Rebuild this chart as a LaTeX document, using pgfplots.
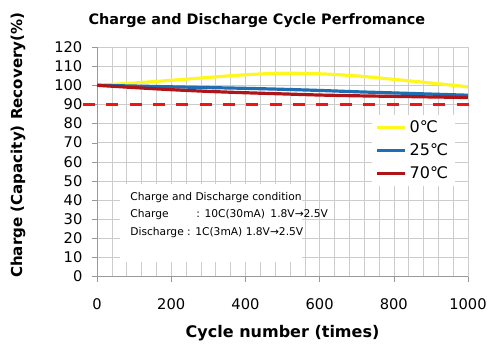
\documentclass[border=0pt]{standalone}
\usepackage{pgfplots}
\pgfplotsset{compat=1.18}
\usepackage{fontspec}
\setmainfont{DejaVu Sans}
\definecolor{cyel}{RGB}{255,248,30}
\definecolor{cblue}{RGB}{30,110,180}
\definecolor{cred}{RGB}{175,20,25}
\definecolor{cdash}{RGB}{240,20,20}
\begin{document}
\begin{tikzpicture}
\begin{axis}[
  scale only axis, width=278pt, height=172pt,
  xmin=0, xmax=1000, ymin=0, ymax=120,
  xtick={0,200,...,1000}, ytick={0,10,...,120},
  minor x tick num=4,
  grid=both, major grid style={gray!40}, minor grid style={gray!40},
  axis x line*=bottom, axis y line*=left,
  axis line style={gray!80},
  tick align=outside, major tick length=4pt, minor tick length=0pt,
  tick style={gray!80},
  /pgf/number format/assume math mode=true,
  /pgf/number format/1000 sep={},
  tick label style={font=\fontsize{11}{13}\selectfont},
  xticklabel style={yshift=-9pt},
  yticklabel style={xshift=-3.5pt},
  clip=false,
  legend style={at={(rel axis cs:0.74,0.705)}, anchor=north west, draw=none, fill=white,
    font=\fontsize{12}{14}\selectfont, row sep=3pt, inner xsep=3pt},
  legend cell align=left,
  legend image code/.code={\draw[#1, line width=2.4pt] (0pt,0pt) -- (21pt,0pt);},
]
\fill[white] (axis cs:62,7.5) rectangle (axis cs:553,48.5);
\addplot[cyel, line width=2.4pt, smooth] coordinates {(0,100) (100,101.2) (200,102.6) (300,104.1) (400,105.5) (500,106.3) (600,106.0) (700,104.9) (800,103.1) (900,101.2) (1000,99.2)};
\addlegendentry{0℃}
\addplot[cblue, line width=2.4pt, smooth] coordinates {(0,100) (100,99.6) (200,99.2) (300,98.8) (400,98.4) (500,97.9) (600,97.3) (700,96.6) (800,96.0) (900,95.4) (1000,94.8)};
\addlegendentry{25℃}
\addplot[cred, line width=2.4pt, smooth] coordinates {(0,100) (100,98.8) (200,97.7) (300,96.8) (400,96.1) (500,95.5) (600,94.9) (700,94.5) (800,94.2) (900,93.9) (1000,93.6)};
\addlegendentry{70℃}
\addplot[cdash, line width=2.5pt, dash pattern=on 9pt off 8.5pt, forget plot] coordinates {(-38,90) (1013,90)};
\node[anchor=west, font=\fontsize{8}{10}\selectfont, inner sep=0pt] at (axis cs:89,41.4) {Charge and Discharge condition};
\node[anchor=west, font=\fontsize{8}{10}\selectfont, inner sep=0pt] at (axis cs:89,32.5) {Charge\hspace{2.6em}: 10C(30mA)\hspace{0.5em}1.8V→2.5V};
\node[anchor=west, font=\fontsize{8}{10}\selectfont, inner sep=0pt] at (axis cs:89,23.1) {Discharge : 1C(3mA) 1.8V→2.5V};
\node[font=\bfseries\fontsize{10.8}{12}\selectfont] at ([yshift=19.5pt]rel axis cs:0.431,1) {Charge and Discharge Cycle Perfromance};
\node[font=\bfseries\fontsize{12}{14}\selectfont] at ([yshift=-42.75pt]rel axis cs:0.5,0) {Cycle number (times)};
\node[font=\bfseries\fontsize{11.3}{13}\selectfont, rotate=90] at ([xshift=-59.25pt]rel axis cs:0,0.572) {Charge (Capacity) Recovery(\%)};
\path ([shift={(-72.75pt,-57.75pt)}]rel axis cs:0,0) rectangle ([shift={(24pt,35.25pt)}]rel axis cs:1,1);
\end{axis}
\end{tikzpicture}
\end{document}
